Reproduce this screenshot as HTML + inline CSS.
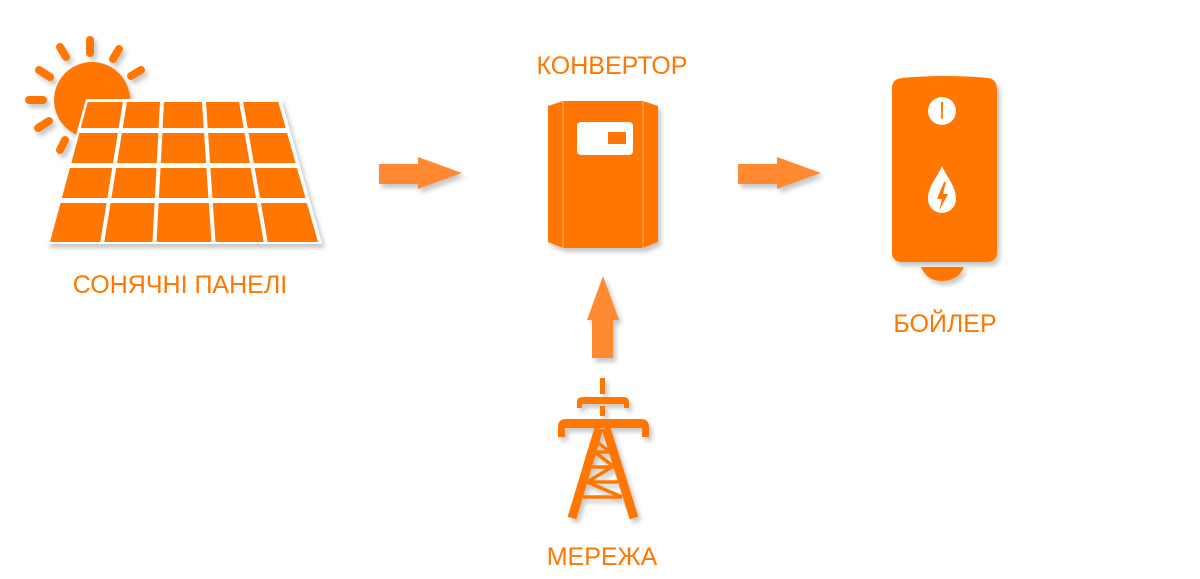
<!DOCTYPE html>
<html><head><meta charset="utf-8"><style>
html,body{margin:0;padding:0;background:#fff;width:1200px;height:579px;overflow:hidden}
svg{display:block}
text{font-family:"Liberation Sans",sans-serif;fill:#ff7700;font-size:25px}
</style></head><body>
<svg width="1200" height="579" viewBox="0 0 1200 579" xmlns="http://www.w3.org/2000/svg">
<defs>
<filter id="sh" x="-20%" y="-20%" width="140%" height="140%"><feDropShadow dx="3" dy="4" stdDeviation="2.5" flood-color="#000" flood-opacity="0.22"/></filter>
</defs>
<g fill="#ff7700" filter="url(#sh)">
<circle cx="92" cy="100" r="38"/>
<g stroke="#ff7700" stroke-width="8" stroke-linecap="round">
<line x1="29" y1="100" x2="43" y2="100"/>
<line x1="38" y1="128" x2="49" y2="121"/>
<line x1="60" y1="150" x2="65" y2="140"/>
<line x1="39" y1="70" x2="50" y2="77"/>
<line x1="60" y1="47" x2="66" y2="57"/>
<line x1="90" y1="40" x2="90" y2="53"/>
<line x1="119" y1="49" x2="113" y2="59"/>
<line x1="141" y1="70" x2="131" y2="76"/>
</g>
<polygon points="86,99 281,99 322,244 46,244" fill="#fff"/>
<g id="cells"></g>
</g>
<g fill="#ff8a33" filter="url(#sh)">
<polygon points="379,164 418,164 418,157 462,173 418,189 418,184 379,184"/>
<polygon points="738,164 777,164 777,157 821,173 777,189 777,184 738,184"/>
<polygon points="603,276 619,320 613,320 613,358 592,358 592,320 587,320"/>
</g>
<g filter="url(#sh)">
<polygon points="548,106 563,101 563,248 548,242" fill="#ff7700"/>
<polygon points="643,101 658,106 658,242 643,248" fill="#ff7700"/>
<rect x="563" y="101" width="80" height="147" fill="#ff7700"/>
<line x1="563" y1="101" x2="563" y2="248" stroke="#ffb27a" stroke-width="1"/>
<line x1="643" y1="101" x2="643" y2="248" stroke="#ffb27a" stroke-width="1"/>
<rect x="577" y="122" width="56" height="33" rx="4" fill="#fff"/>
<rect x="608" y="132" width="18" height="12" fill="#ff7700"/>
</g>
<g fill="#ff7700" stroke="#ff7700" filter="url(#sh)">
<rect x="600" y="378" width="5" height="16" stroke="none"/>
<rect x="600" y="406" width="5" height="10" stroke="none"/>
<path d="M577,408 L577,402 Q577,397 583,397 L623,397 Q629,397 629,402 L629,408 L624,408 L624,404 L582,404 L582,408 Z" stroke="none"/>
<path d="M558,437 L558,427 Q558,419 566,419 L641,419 Q649,419 649,427 L649,437 L642,437 L642,428 L565,428 L565,437 Z" stroke="none"/>
<g stroke-width="9" fill="none" stroke-linecap="butt">
<line x1="599" y1="428" x2="572" y2="518"/>
<line x1="606" y1="428" x2="634" y2="518"/>
</g>
<g stroke-width="3.5" fill="none">
<line x1="595" y1="452" x2="610" y2="452"/>
<line x1="591" y1="467" x2="614" y2="467"/>
<line x1="587" y1="482" x2="618" y2="482"/>
<line x1="583" y1="497" x2="622" y2="497"/>
<line x1="597" y1="442" x2="610" y2="452"/>
<line x1="595" y1="452" x2="614" y2="467"/>
<line x1="612" y1="467" x2="587" y2="482"/>
<line x1="587" y1="482" x2="622" y2="497"/>
</g>
</g>
<g filter="url(#sh)">
<path d="M921,267 L964,267 Q958,281 942,281 Q927,281 921,267 Z" fill="#ff7700"/>
<path d="M892,88 Q892,79 902,78 Q945,74 988,78 Q997,79 997,90 L997,252 Q997,262 987,262 L902,262 Q892,262 892,252 Z" fill="#ff7700"/>
<circle cx="942" cy="111" r="14" fill="#fff"/>
<path d="M941,102 L943,102 L942.8,119 L941.2,119 Z" fill="#ff7700"/>
<path d="M942,166 C947,178 956,186 956,199 A14,14 0 0 1 928,199 C928,186 937,178 942,166 Z" fill="#fff"/>
<polygon points="944,182 937,199 942,199 939,211 948,194 943,194 946,182" fill="#ff7700"/>
</g>
<text x="612" y="74" text-anchor="middle">КОНВЕРТОР</text>
<text x="180" y="293" text-anchor="middle">СОНЯЧНІ ПАНЕЛІ</text>
<text x="945" y="332" text-anchor="middle">БОЙЛЕР</text>
<text x="602" y="565" text-anchor="middle">МЕРЕЖА</text>
</svg>
<script>
(function(){
var g=document.getElementById('cells');
function L(y){return 88-0.2695*(y-101);}
function W(y){return 190+0.553*(y-101);}
var fr=[0,0.195,0.39,0.61,0.805,1];
var rows=[[102,128],[133,163],[168,198],[203,242]];
var s='';
rows.forEach(function(r){
 for(var k=0;k<5;k++){
  var pts=[];
  var y0=r[0],y1=r[1];
  function x(y,f,side){var v=L(y)+W(y)*f;if(side&&f>0&&f<1)v+=side*2;return v;}
  pts.push([x(y0,fr[k],1),y0],[x(y0,fr[k+1],-1),y0],[x(y1,fr[k+1],-1),y1],[x(y1,fr[k],1),y1]);
  s+='<polygon fill="#ff7700" points="'+pts.map(function(p){return p[0].toFixed(1)+','+p[1];}).join(' ')+'"/>';
 }
});
g.innerHTML=s;
})();
</script>
</body></html>
